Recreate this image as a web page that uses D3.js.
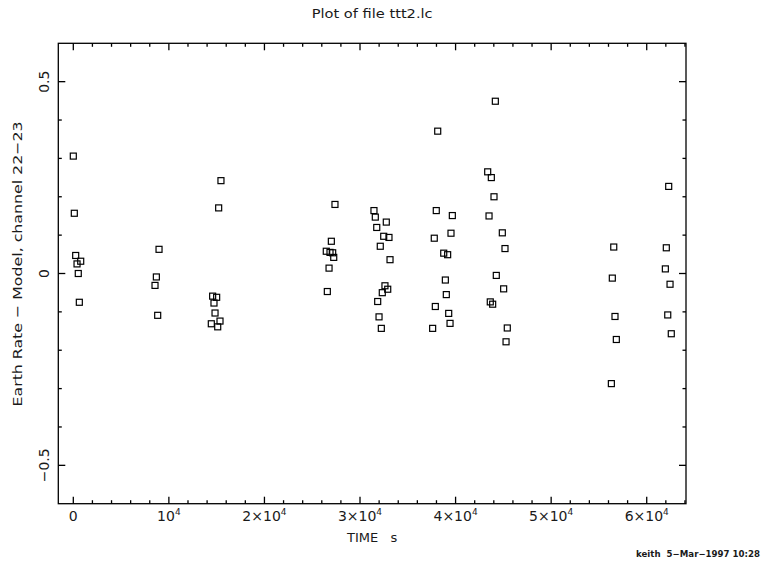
<!DOCTYPE html>
<html>
<head>
<meta charset="utf-8">
<script src="https://cdn.jsdelivr.net/npm/d3@7"></script>
<style>
  html, body { margin: 0; padding: 0; background: #fff; }
  svg { display: block; }
  text { font-family: "DejaVu Sans", "Liberation Sans", sans-serif; fill: #1a1a1a; }
</style>
</head>
<body>
<svg id="chart" width="763" height="562"></svg>
<script>
// Light-curve residuals: time (s) and Earth rate minus model, channel 22-23
const timeSec = [
  0, 105, 250, 775, 390, 520, 630,
  8970, 8690, 8550, 8830,
  15450, 15210, 14580, 15000, 14720, 14830, 14440, 15350, 15110,
  27380, 27000, 26470, 26860, 27140, 27250, 26760, 26580,
  31460, 31600, 32750, 31750, 32480, 33030, 32120, 33140, 32610, 32900, 32330, 31850, 31990, 32230,
  38130, 37980, 39660, 37770, 39520, 38760, 39170, 38930, 39030, 37880, 39280, 39420, 37600,
  44160, 43360, 43740, 44020, 43500, 44890, 45170, 44260, 45030, 43630, 43880, 45410, 45280,
  62300, 56550, 62050, 61950, 56400, 62440, 56680, 62200, 56820, 62570, 56300
];
const rateResidual = [
  0.306, 0.157, 0.047, 0.032, 0.025, 0.000, -0.075,
  0.063, -0.009, -0.031, -0.109,
  0.242, 0.171, -0.059, -0.062, -0.077, -0.103, -0.131, -0.124, -0.139,
  0.180, 0.084, 0.058, 0.055, 0.054, 0.042, 0.014, -0.047,
  0.164, 0.147, 0.134, 0.120, 0.097, 0.094, 0.071, 0.036, -0.032, -0.041, -0.050, -0.073, -0.113, -0.143,
  0.371, 0.164, 0.151, 0.092, 0.105, 0.053, 0.049, -0.017, -0.055, -0.086, -0.104, -0.130, -0.143,
  0.449, 0.265, 0.250, 0.200, 0.150, 0.106, 0.065, -0.005, -0.040, -0.074, -0.080, -0.142, -0.178,
  0.227, 0.069, 0.067, 0.012, -0.012, -0.028, -0.112, -0.108, -0.172, -0.157, -0.287
];

// Axis ticks
const xMajorTicks = [0, 10000, 20000, 30000, 40000, 50000, 60000];
const xTickLabels = [["0", ""], ["10", "4"], ["2\u00d710", "4"], ["3\u00d710", "4"], ["4\u00d710", "4"], ["5\u00d710", "4"], ["6\u00d710", "4"]];
const yMajorTicks = [-0.5, 0, 0.5];
const yTickLabels = ["\u22120.5", "0", "0.5"];

const titleText = "Plot of file ttt2.lc";
const xLabelText = "TIME   s";
const yLabelText = "Earth Rate \u2212 Model, channel 22\u221223";
const footerText = "keith  5\u2212Mar\u22121997 10:28";

const svg = d3.select("#chart");
const frame = { left: 58.3, right: 686, top: 43.3, bottom: 503.7 };

const x = d3.scaleLinear().domain([-1570, 64110]).range([frame.left, frame.right]);
const y = d3.scaleLinear().domain([-0.6, 0.6]).range([frame.bottom, frame.top]);

const xMinor = d3.range(0, 64001, 2000).filter(v => x(v) > frame.left && x(v) < frame.right && v % 10000 !== 0);
const yMinor = d3.range(-6, 7).map(v => v / 10).filter(v => Math.abs(v) < 0.6 && Math.abs(v * 10) % 5 !== 0);

const axisG = svg.append("g").attr("stroke", "#000").attr("stroke-width", 1.3).attr("fill", "none");

// frame
axisG.append("rect")
  .attr("x", frame.left).attr("y", frame.top)
  .attr("width", frame.right - frame.left).attr("height", frame.bottom - frame.top);

const majorLen = 7, minorLen = 3.5;

// x ticks on bottom and top edges, pointing inward
[[xMajorTicks, majorLen], [xMinor, minorLen]].forEach(([vals, len]) => {
  axisG.selectAll(null).data(vals).enter().append("line")
    .attr("x1", d => x(d)).attr("x2", d => x(d))
    .attr("y1", frame.bottom).attr("y2", frame.bottom - len);
  axisG.selectAll(null).data(vals).enter().append("line")
    .attr("x1", d => x(d)).attr("x2", d => x(d))
    .attr("y1", frame.top).attr("y2", frame.top + len);
});

// y ticks on left and right edges, pointing inward
[[yMajorTicks, majorLen], [yMinor, minorLen]].forEach(([vals, len]) => {
  axisG.selectAll(null).data(vals).enter().append("line")
    .attr("y1", d => y(d)).attr("y2", d => y(d))
    .attr("x1", frame.left).attr("x2", frame.left + len);
  axisG.selectAll(null).data(vals).enter().append("line")
    .attr("y1", d => y(d)).attr("y2", d => y(d))
    .attr("x1", frame.right).attr("x2", frame.right - len);
});

// x tick labels with superscript exponents
const xl = svg.append("g").selectAll("text").data(xMajorTicks).enter().append("text")
  .attr("x", d => x(d)).attr("y", 521)
  .attr("text-anchor", "middle").attr("font-size", 14);
xl.append("tspan").text((d, i) => xTickLabels[i][0]);
xl.append("tspan").attr("dy", -6).attr("font-size", 9).text((d, i) => xTickLabels[i][1]);

// y tick labels, rotated
svg.append("g").selectAll("text").data(yMajorTicks).enter().append("text")
  .attr("transform", d => `translate(49,${y(d)}) rotate(-90)`)
  .attr("text-anchor", "middle").attr("font-size", 14)
  .text((d, i) => yTickLabels[i]);

// titles
svg.append("text").attr("x", (frame.left + frame.right) / 2).attr("y", 18.3)
  .attr("text-anchor", "middle").attr("font-size", 12)
  .attr("textLength", 121).attr("lengthAdjust", "spacingAndGlyphs")
  .text(titleText);

svg.append("text").attr("x", (frame.left + frame.right) / 2).attr("y", 542)
  .attr("text-anchor", "middle").attr("font-size", 13)
  .attr("xml:space", "preserve").style("white-space", "pre")
  .text(xLabelText);

svg.append("text")
  .attr("transform", `translate(22,264) rotate(-90)`)
  .attr("text-anchor", "middle").attr("font-size", 13)
  .attr("textLength", 285).attr("lengthAdjust", "spacingAndGlyphs")
  .text(yLabelText);

// user / date stamp in the bottom-right corner
svg.append("text").attr("x", 636).attr("y", 557)
  .attr("font-size", 8.5).attr("font-weight", "bold")
  .attr("xml:space", "preserve").style("white-space", "pre")
  .attr("textLength", 124).attr("lengthAdjust", "spacingAndGlyphs")
  .text(footerText);

// data markers: open squares
const size = 6;
svg.append("g").attr("fill", "none").attr("stroke", "#000").attr("stroke-width", 1.2)
  .selectAll("rect").data(timeSec.map((t, i) => [t, rateResidual[i]])).enter().append("rect")
  .attr("x", d => x(d[0]) - size / 2).attr("y", d => y(d[1]) - size / 2)
  .attr("width", size).attr("height", size);
</script>
</body>
</html>
